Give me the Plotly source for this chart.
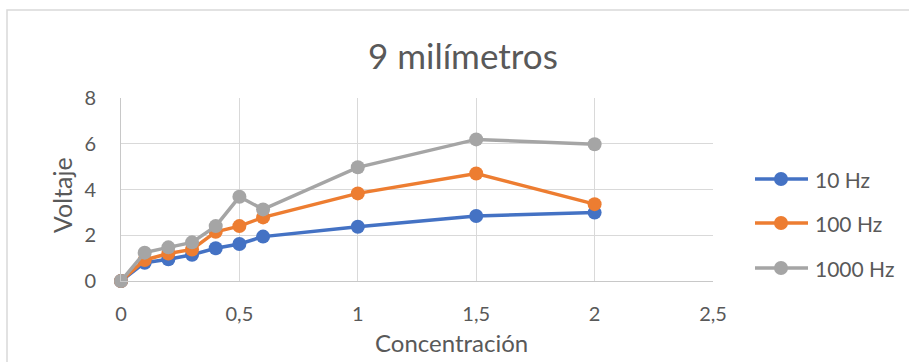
import plotly.graph_objects as go

# Concentration levels and measured voltage per frequency
concentracion = [0, 0.1, 0.2, 0.3, 0.4, 0.5, 0.6, 1, 1.5, 2]
v_10hz = [0, 0.80, 0.95, 1.15, 1.43, 1.62, 1.94, 2.37, 2.84, 2.99]
v_100hz = [0, 0.92, 1.20, 1.38, 2.15, 2.40, 2.78, 3.83, 4.70, 3.36]
v_1000hz = [0, 1.24, 1.47, 1.69, 2.40, 3.68, 3.13, 4.97, 6.19, 5.98]

series_names = ["10 Hz", "100 Hz", "1000 Hz"]
series_values = [v_10hz, v_100hz, v_1000hz]
series_colors = ["#4472C4", "#ED7D31", "#A5A5A5"]

W, H = 909, 362
L, R, T, B = 121, 713, 98, 281  # plot area in pixels

TXT = "#595959"
GRID = "#D9D9D9"
FONT = "Lato"

fig = go.Figure()
for name, vals, color in zip(series_names, series_values, series_colors):
    fig.add_trace(go.Scatter(
        x=concentracion, y=vals, name=name, mode="lines+markers",
        line=dict(color=color, width=3.5),
        marker=dict(color=color, size=14),
        cliponaxis=False,
    ))


def px_x(p):
    return (p - L) / (R - L)


def px_y(p):
    return (B - p) / (B - T)


shapes = [dict(
    type="rect", xref="paper", yref="paper",
    x0=px_x(7), y0=px_y(H + 20), x1=px_x(W + 20), y1=px_y(10),
    line=dict(color=GRID, width=1.5), fillcolor="rgba(0,0,0,0)",
    layer="below",
)]
annotations = [
    dict(text="9 milímetros", xref="paper", yref="paper",
         x=px_x(463), y=px_y(55), xanchor="center", yanchor="middle",
         showarrow=False, font=dict(size=35, color=TXT, family=FONT)),
    dict(text="Voltaje", xref="paper", yref="paper",
         x=px_x(62), y=px_y(195), xanchor="center", yanchor="middle",
         textangle=-90, showarrow=False,
         font=dict(size=25, color=TXT, family=FONT)),
    dict(text="Concentración", xref="paper", yref="paper",
         x=px_x(451), y=px_y(342), xanchor="center", yanchor="middle",
         showarrow=False, font=dict(size=24, color=TXT, family=FONT)),
]

# Legend entries: line with a centred marker, then the label
legend_rows = [179, 223, 268]
for name, color, yrow in zip(series_names, series_colors, legend_rows):
    yp = px_y(yrow)
    shapes.append(dict(
        type="line", xref="paper", yref="paper",
        x0=px_x(755), x1=px_x(808), y0=yp, y1=yp,
        line=dict(color=color, width=3.5),
    ))
    shapes.append(dict(
        type="circle", xref="paper", yref="paper",
        xsizemode="pixel", ysizemode="pixel",
        xanchor=px_x(781), yanchor=yp,
        x0=-7, x1=7, y0=-7, y1=7,
        fillcolor=color, line=dict(color=color, width=0),
    ))
    annotations.append(dict(
        text=name, xref="paper", yref="paper",
        x=px_x(813), y=yp, xanchor="left", yanchor="middle",
        showarrow=False, font=dict(size=21, color=TXT, family=FONT),
    ))

fig.update_layout(
    width=W, height=H,
    margin=dict(l=L, r=W - R, t=T, b=H - B),
    paper_bgcolor="white", plot_bgcolor="white",
    separators=",.",
    font=dict(family=FONT, color=TXT, size=20),
    showlegend=False,
    xaxis=dict(
        range=[0, 2.5], dtick=0.5, tick0=0,
        showgrid=True, gridcolor=GRID, gridwidth=1,
        showline=True, linecolor="#C8C8C8", linewidth=1,
        zeroline=False,
        ticks="outside", ticklen=15, tickcolor="rgba(0,0,0,0)",
        tickfont=dict(size=20, color=TXT, family=FONT),
    ),
    yaxis=dict(
        range=[0, 8], dtick=2, tick0=0,
        showgrid=True, gridcolor=GRID, gridwidth=1,
        showline=True, linecolor="#C8C8C8", linewidth=1,
        zeroline=False,
        ticks="outside", ticklen=20, tickcolor="rgba(0,0,0,0)",
        tickfont=dict(size=20, color=TXT, family=FONT),
    ),
    shapes=shapes,
    annotations=annotations,
)

fig.write_html("out.html")
